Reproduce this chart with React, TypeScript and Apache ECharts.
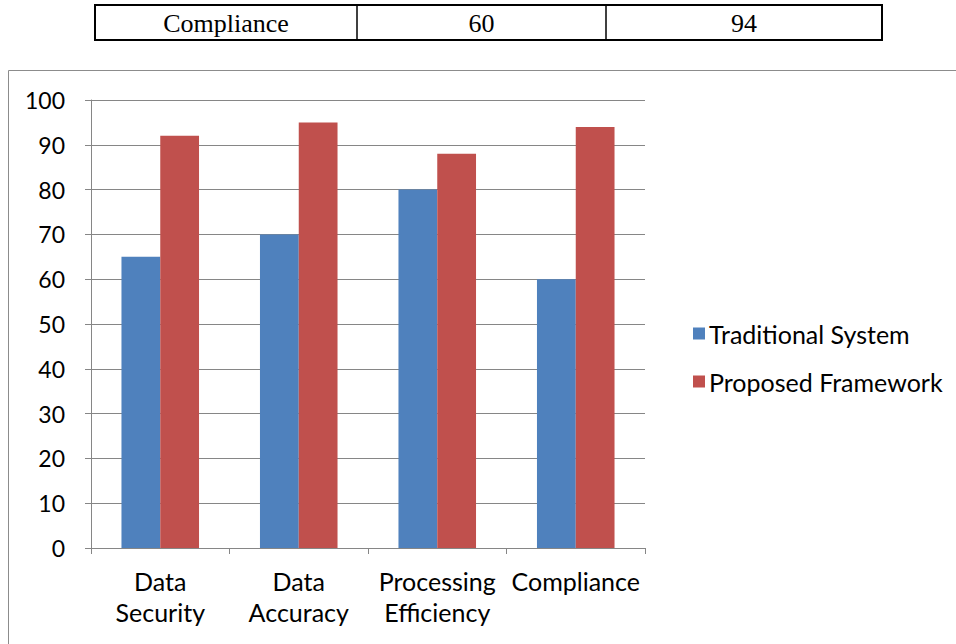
import React, { useEffect, useRef } from "react";
import * as echarts from "echarts";

const categories = ["Data\nSecurity", "Data\nAccuracy", "Processing\nEfficiency", "Compliance"];
const seriesNames = ["Traditional System", "Proposed Framework"];
const traditional = [65, 70, 80, 60];
const proposed = [92, 95, 88, 94];
const tableRow = [categories[3], String(traditional[3]), String(proposed[3])];

const FONT = "Lato";

export default function App() {
  const ref = useRef<HTMLDivElement>(null);
  useEffect(() => {
    document.body.style.margin = "0";
    const chart = echarts.init(ref.current!, null, { renderer: "svg" });
    const colX = [95, 357, 606, 882];
    const tableGraphics: any[] = [
      { type: "rect", shape: { x: 95, y: 5, width: 787, height: 35 }, style: { fill: "none", stroke: "#000", lineWidth: 2 } },
      { type: "line", shape: { x1: 357, y1: 5, x2: 357, y2: 40 }, style: { stroke: "#000", lineWidth: 1.5 } },
      { type: "line", shape: { x1: 606, y1: 5, x2: 606, y2: 40 }, style: { stroke: "#000", lineWidth: 1.5 } },
    ];
    tableRow.forEach((t, i) => {
      tableGraphics.push({
        type: "text",
        x: (colX[i] + colX[i + 1]) / 2,
        y: 23,
        style: { text: t, font: '26px "Liberation Serif", serif', fill: "#000", align: "center", verticalAlign: "middle" },
      });
    });
    chart.setOption({
      animation: false,
      backgroundColor: "#fff",
      graphic: [
        ...tableGraphics,
        { type: "rect", shape: { x: 8.5, y: 70.5, width: 960, height: 600 }, style: { fill: "none", stroke: "#8c8c8c", lineWidth: 1 }, z: -1 },
      ],
      grid: { left: 91, top: 100, right: 311, bottom: 96, containLabel: false },
      legend: {
        orient: "vertical",
        left: 688,
        top: 316,
        itemWidth: 12,
        itemHeight: 12,
        itemGap: 23,
        icon: "rect",
        textStyle: { fontFamily: FONT, fontSize: 25, color: "#000", padding: [0, 0, 0, -1] },
        data: seriesNames,
      },
      xAxis: {
        type: "category",
        data: categories,
        axisLine: { lineStyle: { color: "#868686", width: 1 } },
        axisTick: { show: true, length: 6, lineStyle: { color: "#868686" } },
        axisLabel: { fontFamily: FONT, fontSize: 25, color: "#000", lineHeight: 31, margin: 17, interval: 0 },
      },
      yAxis: {
        type: "value",
        min: 0,
        max: 100,
        interval: 10,
        axisLine: { show: true, lineStyle: { color: "#868686", width: 1 } },
        axisTick: { show: true, length: 6, lineStyle: { color: "#868686" } },
        axisLabel: { fontFamily: FONT, fontSize: 23, color: "#000", margin: 26 },
        splitLine: { lineStyle: { color: "#868686", width: 1 } },
      },
      series: [
        { name: seriesNames[0], type: "bar", data: traditional, itemStyle: { color: "#4F81BD" }, barGap: "0%", barCategoryGap: "44%" },
        { name: seriesNames[1], type: "bar", data: proposed, itemStyle: { color: "#C0504D" }, barGap: "0%", barCategoryGap: "44%" },
      ],
    });
    return () => chart.dispose();
  }, []);
  return <div ref={ref} style={{ width: 956, height: 644 }} />;
}
